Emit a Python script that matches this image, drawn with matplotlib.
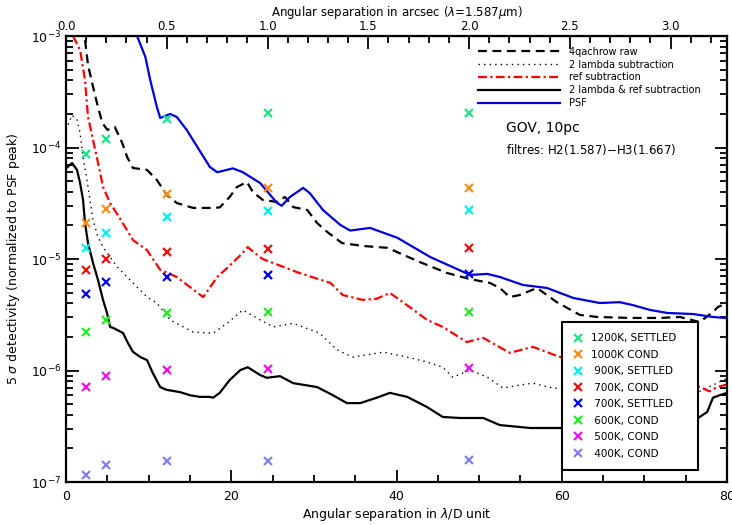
import matplotlib
matplotlib.use('Agg')
import matplotlib.pyplot as plt
import matplotlib.ticker as ticker

# conversion lambda/D -> arcsec at 1.587 micron
ARCSEC_PER_LD = 0.0410

# ----- detection curves (x in lambda/D, y = 5 sigma detectivity) -----
psf_x = [8.6, 9.6, 10.2, 11.0, 11.4, 12.6, 13.4, 14.6, 15.9, 17.4, 18.3, 20.2, 21.4,
         23.5, 25.5, 26.1, 27.1, 28.7, 29.5, 31.1, 33.2, 34.4, 36.8, 40.1, 44.1,
         48.9, 51.0, 52.5, 55.3, 58.2, 61.4, 64.6, 67.0, 68.6, 70.7, 72.8, 75.9,
         78.3, 80.0]
psf_y = [1.0e-3, 6.5e-4, 4.0e-4, 2.3e-4, 1.84e-4, 2.0e-4, 1.88e-4, 1.44e-4, 1.01e-4,
         6.7e-5, 6.0e-5, 6.5e-5, 6.0e-5, 4.8e-5, 3.2e-5, 3.0e-5, 3.6e-5, 4.34e-5,
         3.9e-5, 2.75e-5, 2.02e-5, 1.8e-5, 1.9e-5, 1.55e-5, 1.04e-5, 7.2e-6, 7.35e-6,
         6.9e-6, 5.85e-6, 5.5e-6, 4.47e-6, 4.03e-6, 4.1e-6, 3.86e-6, 3.49e-6, 3.28e-6,
         3.21e-6, 3.02e-6, 2.95e-6]

raw_x = [2.3, 2.66, 3.5, 3.9, 4.4, 5.0, 5.9, 6.8, 7.4, 8.1, 9.8, 11.0, 12.2, 13.4,
         15.4, 17.4, 18.6, 19.8, 20.7, 21.9, 22.6, 23.8, 25.5, 26.5, 27.5, 29.2,
         30.4, 31.6, 33.4, 35.9, 38.9, 42.8, 46.1, 48.9, 51.3, 52.5, 53.7, 54.9,
         57.0, 59.4, 62.2, 64.3, 68.3, 71.9, 74.3, 76.7, 78.3, 78.9, 80.0]
raw_y = [9.2e-4, 5.5e-4, 2.96e-4, 2.26e-4, 1.66e-4, 1.44e-4, 1.53e-4, 1.1e-4, 8.2e-5,
         6.55e-5, 6.3e-5, 5.1e-5, 3.75e-5, 3.18e-5, 2.87e-5, 2.87e-5, 2.9e-5, 3.6e-5,
         4.43e-5, 4.9e-5, 4.0e-5, 3.39e-5, 3.25e-5, 3.6e-5, 2.92e-5, 2.75e-5, 2.1e-5,
         1.75e-5, 1.39e-5, 1.31e-5, 1.26e-5, 9.4e-6, 7.5e-6, 6.6e-6, 6.1e-6, 5.5e-6,
         4.56e-6, 4.75e-6, 5.5e-6, 4.1e-6, 3.15e-6, 3.02e-6, 2.96e-6, 2.96e-6,
         3.02e-6, 2.72e-6, 3.35e-6, 3.71e-6, 4.03e-6]

dlam_x = [0.0, 0.73, 1.33, 1.7, 2.06, 2.54, 2.9, 3.27, 3.87, 4.48, 5.33, 6.2, 7.4,
          8.6, 9.8, 11.0, 12.6, 15.4, 17.8, 19.5, 21.4, 23.5, 25.1, 27.5, 30.7, 32.8,
          34.7, 38.4, 41.3, 43.7, 45.6, 46.8, 48.9, 51.0, 52.9, 54.9, 56.5, 58.9,
          65.0, 72.0, 76.7, 80.0]
dlam_y = [1.44e-4, 1.95e-4, 1.77e-4, 1.35e-4, 8.2e-5, 5.1e-5, 3.39e-5, 2.24e-5,
          1.57e-5, 1.28e-5, 1.04e-5, 8.5e-6, 6.9e-6, 5.6e-6, 4.56e-6, 4.03e-6,
          2.84e-6, 2.21e-6, 2.16e-6, 2.65e-6, 3.49e-6, 2.84e-6, 2.46e-6, 2.65e-6,
          2.16e-6, 1.53e-6, 1.32e-6, 1.46e-6, 1.32e-6, 1.19e-6, 1.07e-6, 8.7e-7,
          1.01e-6, 8.7e-7, 6.96e-7, 7.4e-7, 7.7e-7, 6.96e-7, 6.5e-7, 6.0e-7,
          6.5e-7, 8.5e-7]

ref_x = [0.85, 1.7, 2.3, 2.66, 3.27, 3.87, 4.48, 5.33, 6.5, 8.1, 9.8, 11.4, 13.4,
         15.0, 16.6, 17.2, 18.3, 19.5, 21.1, 22.0, 22.6, 23.8, 28.0, 32.0, 33.5,
         35.9, 37.6, 39.2, 41.6, 43.7, 45.6, 48.5, 50.5, 53.7, 56.5, 59.8, 64.6,
         70.7, 76.7, 77.9, 78.8, 80.0]
ref_y = [1.0e-3, 7.5e-4, 4.0e-4, 1.88e-4, 1.17e-4, 7.3e-5, 4.43e-5, 3.18e-5,
         2.33e-5, 1.48e-5, 1.2e-5, 8.0e-6, 6.9e-6, 5.6e-6, 4.56e-6, 5.27e-6, 6.9e-6,
         8.3e-6, 1.08e-5, 1.28e-5, 1.17e-5, 1.0e-5, 7.6e-6, 6.1e-6, 4.75e-6, 4.3e-6,
         4.4e-6, 4.96e-6, 3.7e-6, 2.84e-6, 2.46e-6, 1.8e-6, 1.96e-6, 1.44e-6,
         1.63e-6, 1.32e-6, 1.2e-6, 1.0e-6, 7.1e-7, 6.5e-7, 7.1e-7, 7.5e-7]

both_x = [0.0, 0.73, 1.33, 1.7, 2.06, 2.3, 2.66, 3.27, 3.87, 4.48, 4.96, 5.33, 5.7,
          6.9, 7.5, 8.1, 9.0, 9.8, 10.5, 11.4, 12.2, 13.8, 15.0, 16.2, 17.4, 17.8,
          18.6, 19.8, 21.1, 22.0, 23.5, 24.3, 25.9, 27.5, 30.4, 32.3, 34.0, 35.6,
          37.6, 39.2, 41.3, 43.7, 45.6, 47.7, 50.5, 52.5, 56.2, 59.8, 65.0, 72.0,
          76.5, 77.6, 78.3, 79.1, 80.0]
both_y = [6.5e-5, 7.26e-5, 6.3e-5, 4.8e-5, 3.39e-5, 2.1e-5, 1.39e-5, 9.2e-6, 6.5e-6,
          4.29e-6, 3.28e-6, 2.46e-6, 2.41e-6, 2.17e-6, 1.76e-6, 1.47e-6, 1.32e-6,
          1.24e-6, 9.5e-7, 7.1e-7, 6.7e-7, 6.4e-7, 6.0e-7, 5.8e-7, 5.8e-7, 5.7e-7,
          6.3e-7, 8.2e-7, 1.01e-6, 1.07e-6, 9.1e-7, 8.6e-7, 8.9e-7, 7.7e-7, 7.1e-7,
          6.0e-7, 5.1e-7, 5.1e-7, 5.7e-7, 6.3e-7, 5.8e-7, 4.7e-7, 3.83e-7, 3.75e-7,
          3.75e-7, 3.24e-7, 3.05e-7, 3.05e-7, 3.2e-7, 3.5e-7, 3.75e-7, 4.25e-7,
          5.7e-7, 6.0e-7, 6.3e-7]

# ----- companion models at fixed separations (arcsec) -----
sep_arcsec = [0.1, 0.2, 0.5, 1.0, 2.0]
model_labels = ['1200K, SETTLED', '1000K COND', ' 900K, SETTLED', ' 700K, COND',
                ' 700K, SETTLED', ' 600K, COND', ' 500K, COND', ' 400K, COND']
model_colors = ['#1de58a', '#ff8c1a', '#00f0f0', '#ee1111', '#0000ee',
                '#22ee22', '#ee11ee', '#8080f0']
m1200_settled = [8.75e-5, 1.19e-4, 1.8e-4, 2.04e-4, 2.04e-4]
m1000_cond = [2.1e-5, 2.8e-5, 3.83e-5, 4.33e-5, 4.33e-5]
m900_settled = [1.26e-5, 1.71e-5, 2.38e-5, 2.69e-5, 2.75e-5]
m700_cond = [8.0e-6, 1.0e-5, 1.16e-5, 1.23e-5, 1.26e-5]
m700_settled = [4.85e-6, 6.2e-6, 6.9e-6, 7.2e-6, 7.35e-6]
m600_cond = [2.21e-6, 2.84e-6, 3.28e-6, 3.35e-6, 3.35e-6]
m500_cond = [7.1e-7, 8.9e-7, 1.01e-6, 1.03e-6, 1.05e-6]
m400_cond = [1.16e-7, 1.42e-7, 1.54e-7, 1.54e-7, 1.58e-7]
models = [m1200_settled, m1000_cond, m900_settled, m700_cond,
          m700_settled, m600_cond, m500_cond, m400_cond]

# top axis tick values (arcsec)
top_major = [0.0, 0.5, 1.0, 1.5, 2.0, 2.5, 3.0]
top_minor = [i / 10 for i in range(0, 33)]

plt.rcParams['font.family'] = 'DejaVu Sans'

fig = plt.figure(figsize=(7.32, 5.25), dpi=100)
ax = fig.add_axes([0.0902, 0.0819, 0.9030, 0.8495])

l_raw, = ax.plot(raw_x, raw_y, color='black', lw=1.6, linestyle=(0, (4, 2.5)),
                 label='4qachrow raw')
l_dlam, = ax.plot(dlam_x, dlam_y, color='black', lw=1.0, linestyle=(0, (1, 3)),
                  label='2 lambda subtraction')
l_ref, = ax.plot(ref_x, ref_y, color='red', lw=1.6, linestyle=(0, (4, 1.5, 1, 1.5)),
                 label='ref subtraction')
l_both, = ax.plot(both_x, both_y, color='black', lw=1.6,
                  label='2 lambda & ref subtraction')
l_psf, = ax.plot(psf_x, psf_y, color='#0000dd', lw=1.6, label='PSF')

sep_ld = [s / ARCSEC_PER_LD for s in sep_arcsec]
marks = []
for vals, col, lab in zip(models, model_colors, model_labels):
    m, = ax.plot(sep_ld, vals, linestyle='none', marker='x', ms=5.5, mew=1.6,
                 color=col, label=lab, zorder=5)
    marks.append(m)

ax.set_xlim(0, 80)
ax.set_yscale('log')
ax.set_ylim(1e-7, 1e-3)

ax.xaxis.set_major_locator(ticker.MultipleLocator(20))
ax.xaxis.set_minor_locator(ticker.MultipleLocator(5))
ax.tick_params(which='both', direction='in', right=True, top=False, labelsize=9,
               width=1.3)
ax.tick_params(which='major', length=9)
ax.tick_params(which='minor', length=5)
ax.tick_params(axis='x', pad=6)
for sp in ax.spines.values():
    sp.set_linewidth(1.6)

ax.set_xlabel(r'Angular separation in $\lambda$/D unit', fontsize=9, labelpad=2)
ax.set_ylabel(r'5 $\sigma$ detectivity (normalized to PSF peak)', fontsize=9,
              labelpad=6)

top = ax.secondary_xaxis('top', functions=(lambda v: v * ARCSEC_PER_LD,
                                           lambda v: v / ARCSEC_PER_LD))
top.xaxis.set_major_locator(ticker.FixedLocator(top_major))
top.xaxis.set_minor_locator(ticker.FixedLocator(top_minor))
top.xaxis.set_major_formatter(ticker.FormatStrFormatter('%.1f'))
top.tick_params(which='both', direction='in', labelsize=8.5, width=1.3, pad=2)
top.tick_params(which='major', length=9)
top.tick_params(which='minor', length=5)
top.set_xlabel(r'Angular separation in arcsec ($\lambda$=1.587$\mu$m)',
               fontsize=8.5, labelpad=3)

leg1 = ax.legend(handles=[l_raw, l_dlam, l_ref, l_both, l_psf], loc='upper left',
                 bbox_to_anchor=(0.617, 0.985), frameon=False, fontsize=7,
                 handlelength=8.5, handletextpad=0.9, labelspacing=0.3,
                 borderaxespad=0)
ax.add_artist(leg1)

leg2 = ax.legend(handles=marks, loc='lower left',
                 bbox_to_anchor=(0.750, 0.027, 0.206, 0.33), mode='expand',
                 fontsize=7.5, handlelength=1.0, handletextpad=0.7,
                 labelspacing=0.62, borderpad=1.1, fancybox=False,
                 edgecolor='black', framealpha=1, borderaxespad=0)
leg2.get_frame().set_linewidth(1.5)

ax.text(0.665, 0.785, 'GOV, 10pc', transform=ax.transAxes, fontsize=10)
ax.text(0.665, 0.735, 'filtres: H2(1.587)$-$H3(1.667)', transform=ax.transAxes,
        fontsize=8.5)

fig.savefig('out.png', dpi=100)
